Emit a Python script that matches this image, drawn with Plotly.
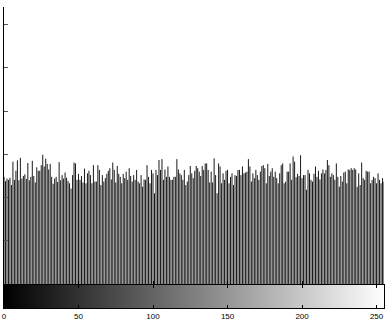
import plotly.graph_objects as go

# Histogram counts for grey levels 0..255
counts_a = [248, 238, 244, 241, 246, 229, 283, 241, 262, 286, 240, 292, 244, 250, 254, 243,
            280, 240, 248, 285, 250, 235, 270, 262, 262, 275, 299, 272, 290, 278, 265, 278,
            248, 232, 244, 248, 236, 282, 240, 252, 244, 258, 246, 238]
counts_b = [233, 221, 252, 281, 279, 241, 255, 241, 250, 235, 267, 233, 256, 262, 252, 233,
            275, 237, 237, 275, 264, 229, 252, 237, 245, 255, 262, 268, 242, 281, 264, 235,
            273, 255, 248, 233, 255, 245, 260, 241, 268, 250, 237]
counts_c = [252, 241, 264, 237, 233, 252, 225, 242, 241, 275, 248, 233, 264, 256, 210, 264,
            252, 287, 264, 289, 241, 265, 248, 272, 248, 241, 241, 248, 248, 289, 265, 256,
            252, 241, 264, 229, 237, 252, 273, 256, 245, 262]
counts_d = [273, 268, 260, 250, 273, 264, 279, 279, 264, 235, 260, 235, 291, 252, 210, 279,
            272, 233, 256, 241, 262, 264, 233, 248, 256, 229, 252, 250, 264, 264, 252, 272,
            256, 258, 260, 289, 272, 237, 256, 245, 264, 252, 241]
counts_e = [260, 273, 275, 268, 233, 278, 250, 260, 268, 248, 260, 245, 233, 256, 275, 279,
            233, 237, 260, 260, 279, 241, 295, 283, 247, 255, 250, 298, 245, 252, 252, 218,
            264, 256, 241, 237, 255, 272, 248, 262, 242, 256, 265]
counts_f = [256, 264, 287, 275, 248, 256, 252, 241, 279, 248, 225, 250, 237, 258, 260, 233,
            265, 264, 268, 264, 268, 265, 225, 256, 229, 281, 245, 241, 262, 260, 260, 233,
            241, 248, 245, 233, 256, 241, 233, 245, 237]

counts = counts_a + counts_b + counts_c + counts_d + counts_e + counts_f
levels = list(range(len(counts)))
tick_vals = [0, 50, 100, 150, 200, 250]
y_ticks = [100, 200, 300, 400, 500, 600]

# stem lines: one vertical segment per grey level
stem_x, stem_y = [], []
for lv, c in zip(levels, counts):
    stem_x += [lv, lv, None]
    stem_y += [0, c, None]

fig = go.Figure()

fig.add_trace(go.Scatter(
    x=stem_x, y=stem_y, mode="lines",
    line=dict(color="#1a1a1a", width=1),
    xaxis="x", yaxis="y", showlegend=False, hoverinfo="skip",
))

# grey-level ramp under the histogram
fig.add_trace(go.Heatmap(
    z=[levels], x=levels, y=[0],
    colorscale=[[0, "black"], [1, "white"]],
    showscale=False, xaxis="x2", yaxis="y2", hoverinfo="skip",
))

W, H = 389, 321
fig.update_layout(
    width=W, height=H,
    margin=dict(l=0, r=0, t=0, b=0),
    paper_bgcolor="white", plot_bgcolor="white",
    font=dict(family="Liberation Sans, Arial, sans-serif", size=8, color="black"),
    xaxis=dict(
        domain=[2 / W, 384 / W], range=[0, 255], anchor="y",
        tickvals=tick_vals, ticks="inside", ticklen=3, tickcolor="black",
        showticklabels=False, showline=False, showgrid=False, zeroline=False,
    ),
    yaxis=dict(
        domain=[(H - 284) / H, (H - 7) / H], range=[0, 641], anchor="x",
        tickvals=y_ticks, ticks="inside", ticklen=4, tickcolor="#555",
        showticklabels=False, showline=True, linecolor="black", linewidth=1,
        showgrid=False, zeroline=False,
    ),
    xaxis2=dict(
        domain=[2 / W, 384 / W], range=[-0.01, 255], anchor="y2",
        tickvals=tick_vals, ticktext=[str(v) for v in tick_vals],
        ticklabeloverflow="allow",
        ticks="inside", ticklen=3, tickcolor="black",
        showline=True, linecolor="black", linewidth=1, mirror="ticks",
        showgrid=False, zeroline=False,
    ),
    yaxis2=dict(
        domain=[(H - 308) / H, (H - 285) / H], range=[-0.5, 0.5], anchor="x2",
        showticklabels=False, ticks="", showline=True, linecolor="black",
        linewidth=1, mirror=True, showgrid=False, zeroline=False,
    ),
)

fig.write_html("out.html")
